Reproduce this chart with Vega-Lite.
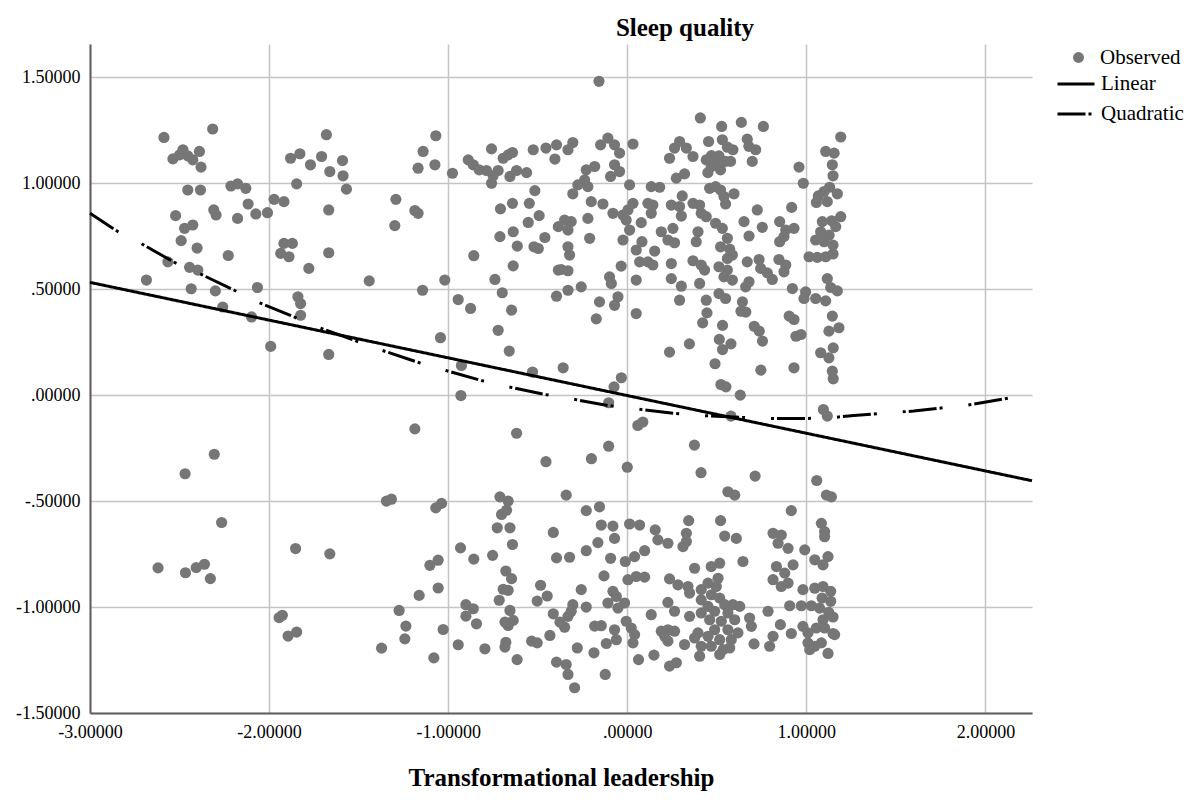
{
  "$schema": "https://vega.github.io/schema/vega-lite/v6.json",
  "width": 942,
  "height": 669,
  "autosize": "none",
  "padding": {"left": 90, "top": 44, "right": 168, "bottom": 94},
  "background": "white",
  "title": {
    "text": "Sleep quality",
    "font": "Liberation Serif",
    "fontSize": 25,
    "fontWeight": "bold",
    "color": "black",
    "anchor": "middle",
    "frame": "group",
    "dx": 124,
    "baseline": "alphabetic",
    "offset": -17
  },
  "datasets": {
    "observed": [
      {"x": -2.587, "y": 1.216}, {"x": -2.315, "y": 1.256}, {"x": -2.481, "y": 1.158}, {"x": -2.537, "y": 1.115},
      {"x": -2.454, "y": 1.129}, {"x": -2.426, "y": 1.11}, {"x": -2.389, "y": 1.15}, {"x": -2.38, "y": 1.076},
      {"x": -2.5, "y": 1.134}, {"x": -2.454, "y": 0.968}, {"x": -2.383, "y": 0.968}, {"x": -2.213, "y": 0.987},
      {"x": -2.176, "y": 0.997}, {"x": -2.13, "y": 0.976}, {"x": -2.117, "y": 0.902}, {"x": -2.309, "y": 0.874},
      {"x": -2.296, "y": 0.85}, {"x": -2.176, "y": 0.834}, {"x": -2.074, "y": 0.855}, {"x": -2.009, "y": 0.861},
      {"x": -1.972, "y": 0.924}, {"x": -1.917, "y": 0.913}, {"x": -2.522, "y": 0.847}, {"x": -2.472, "y": 0.787},
      {"x": -2.426, "y": 0.803}, {"x": -2.491, "y": 0.729}, {"x": -2.402, "y": 0.694}, {"x": -2.228, "y": 0.659},
      {"x": -2.565, "y": 0.629}, {"x": -2.444, "y": 0.603}, {"x": -2.398, "y": 0.59}, {"x": -2.685, "y": 0.543},
      {"x": -2.435, "y": 0.502}, {"x": -2.3, "y": 0.492}, {"x": -2.259, "y": 0.416}, {"x": -2.065, "y": 0.508},
      {"x": -2.098, "y": 0.369}, {"x": -1.991, "y": 0.23}, {"x": -1.88, "y": 1.118}, {"x": -1.828, "y": 1.139},
      {"x": -1.769, "y": 1.087}, {"x": -1.707, "y": 1.126}, {"x": -1.68, "y": 1.229}, {"x": -1.661, "y": 1.055},
      {"x": -1.846, "y": 0.997}, {"x": -1.667, "y": 0.874}, {"x": -1.917, "y": 0.716}, {"x": -1.87, "y": 0.716},
      {"x": -1.935, "y": 0.669}, {"x": -1.889, "y": 0.653}, {"x": -1.667, "y": 0.672}, {"x": -1.778, "y": 0.598},
      {"x": -1.839, "y": 0.464}, {"x": -1.824, "y": 0.432}, {"x": -1.824, "y": 0.377}, {"x": -1.667, "y": 0.192},
      {"x": -2.306, "y": -0.279}, {"x": -2.469, "y": -0.371}, {"x": -2.265, "y": -0.601}, {"x": -2.62, "y": -0.815},
      {"x": -2.467, "y": -0.838}, {"x": -2.407, "y": -0.814}, {"x": -2.361, "y": -0.798}, {"x": -2.328, "y": -0.866},
      {"x": -1.852, "y": -0.724}, {"x": -1.661, "y": -0.749}, {"x": -1.944, "y": -1.05}, {"x": -1.926, "y": -1.039},
      {"x": -1.894, "y": -1.137}, {"x": -1.846, "y": -1.118},
      {"x": -1.59, "y": 1.107}, {"x": -1.587, "y": 1.035}, {"x": -1.568, "y": 0.972}, {"x": -1.292, "y": 0.924},
      {"x": -1.298, "y": 0.8}, {"x": -1.186, "y": 0.871}, {"x": -1.168, "y": 0.858}, {"x": -1.14, "y": 1.15},
      {"x": -1.069, "y": 1.224}, {"x": -1.168, "y": 1.071}, {"x": -1.074, "y": 1.087}, {"x": -0.976, "y": 1.047},
      {"x": -1.441, "y": 0.539}, {"x": -1.143, "y": 0.495}, {"x": -1.019, "y": 0.543}, {"x": -0.944, "y": 0.451},
      {"x": -0.875, "y": 0.409}, {"x": -1.043, "y": 0.271}, {"x": -0.926, "y": 0.14}, {"x": -0.929, "y": -0.002},
      {"x": -0.758, "y": 1.162}, {"x": -0.888, "y": 1.11}, {"x": -0.86, "y": 1.087}, {"x": -0.827, "y": 1.063},
      {"x": -0.786, "y": 1.06}, {"x": -0.758, "y": 1.0}, {"x": -0.749, "y": 1.035}, {"x": -0.721, "y": 1.06},
      {"x": -0.693, "y": 1.118}, {"x": -0.665, "y": 1.134}, {"x": -0.641, "y": 1.145}, {"x": -0.655, "y": 1.032},
      {"x": -0.618, "y": 1.06}, {"x": -0.562, "y": 1.05}, {"x": -0.525, "y": 1.158}, {"x": -0.454, "y": 1.166},
      {"x": -0.395, "y": 1.181}, {"x": -0.404, "y": 1.114}, {"x": -0.516, "y": 0.965}, {"x": -0.708, "y": 0.879},
      {"x": -0.641, "y": 0.905}, {"x": -0.547, "y": 0.905}, {"x": -0.492, "y": 0.847}, {"x": -0.553, "y": 0.815},
      {"x": -0.385, "y": 0.795}, {"x": -0.711, "y": 0.748}, {"x": -0.637, "y": 0.771}, {"x": -0.614, "y": 0.703},
      {"x": -0.521, "y": 0.7}, {"x": -0.497, "y": 0.692}, {"x": -0.46, "y": 0.744}, {"x": -0.857, "y": 0.658},
      {"x": -0.637, "y": 0.61}, {"x": -0.385, "y": 0.59}, {"x": -0.739, "y": 0.546}, {"x": -0.698, "y": 0.483},
      {"x": -0.646, "y": 0.401}, {"x": -0.395, "y": 0.467}, {"x": -0.721, "y": 0.306}, {"x": -0.659, "y": 0.208},
      {"x": -0.529, "y": 0.109}, {"x": -0.358, "y": 0.129},
      {"x": -1.186, "y": -0.159}, {"x": -0.618, "y": -0.18}, {"x": -0.454, "y": -0.314}, {"x": -1.345, "y": -0.5},
      {"x": -1.317, "y": -0.491}, {"x": -1.069, "y": -0.532}, {"x": -1.037, "y": -0.511}, {"x": -0.711, "y": -0.48},
      {"x": -0.665, "y": -0.5}, {"x": -0.674, "y": -0.543}, {"x": -0.702, "y": -0.563}, {"x": -0.726, "y": -0.626},
      {"x": -0.655, "y": -0.626}, {"x": -0.641, "y": -0.705}, {"x": -0.413, "y": -0.648}, {"x": -0.395, "y": -0.768},
      {"x": -0.931, "y": -0.721}, {"x": -0.857, "y": -0.774}, {"x": -0.752, "y": -0.756}, {"x": -1.102, "y": -0.803},
      {"x": -1.056, "y": -0.779}, {"x": -0.678, "y": -0.83}, {"x": -0.646, "y": -0.866}, {"x": -0.693, "y": -0.916},
      {"x": -0.665, "y": -0.921}, {"x": -0.715, "y": -0.968}, {"x": -0.484, "y": -0.897}, {"x": -0.503, "y": -0.972},
      {"x": -0.447, "y": -0.948}, {"x": -1.162, "y": -0.945}, {"x": -1.056, "y": -0.91}, {"x": -1.274, "y": -1.016},
      {"x": -1.236, "y": -1.09}, {"x": -1.242, "y": -1.15}, {"x": -1.372, "y": -1.194}, {"x": -1.028, "y": -1.106},
      {"x": -1.08, "y": -1.24}, {"x": -0.901, "y": -0.989}, {"x": -0.86, "y": -1.008}, {"x": -0.901, "y": -1.043},
      {"x": -0.842, "y": -1.079}, {"x": -0.944, "y": -1.178}, {"x": -0.795, "y": -1.197}, {"x": -0.655, "y": -1.016},
      {"x": -0.683, "y": -1.071}, {"x": -0.637, "y": -1.063}, {"x": -0.665, "y": -1.087}, {"x": -0.678, "y": -1.166},
      {"x": -0.683, "y": -1.189}, {"x": -0.615, "y": -1.248}, {"x": -0.534, "y": -1.161}, {"x": -0.503, "y": -1.169},
      {"x": -0.432, "y": -1.134}, {"x": -0.413, "y": -1.032}, {"x": -0.376, "y": -1.071}, {"x": -0.395, "y": -1.26},
      {"x": -0.158, "y": 1.481}, {"x": 0.408, "y": 1.308}, {"x": -0.304, "y": 1.192}, {"x": -0.331, "y": 1.158},
      {"x": -0.149, "y": 1.181}, {"x": -0.108, "y": 1.213}, {"x": -0.071, "y": 1.181}, {"x": -0.043, "y": 1.142},
      {"x": 0.032, "y": 1.185}, {"x": -0.071, "y": 1.087}, {"x": -0.043, "y": 1.055}, {"x": -0.093, "y": 1.032},
      {"x": -0.229, "y": 1.063}, {"x": -0.182, "y": 1.079}, {"x": -0.238, "y": 1.016}, {"x": -0.276, "y": 0.992},
      {"x": -0.22, "y": 0.984}, {"x": -0.304, "y": 0.95}, {"x": 0.013, "y": 0.992}, {"x": 0.134, "y": 0.984},
      {"x": 0.181, "y": 0.981}, {"x": 0.236, "y": 1.118}, {"x": 0.264, "y": 1.166}, {"x": 0.292, "y": 1.197},
      {"x": 0.33, "y": 1.166}, {"x": 0.367, "y": 1.126}, {"x": 0.274, "y": 1.024}, {"x": 0.32, "y": 1.044},
      {"x": 0.307, "y": 0.94}, {"x": 0.454, "y": 1.197}, {"x": 0.441, "y": 1.11}, {"x": 0.469, "y": 1.079},
      {"x": 0.45, "y": 1.05}, {"x": 0.47, "y": 1.13}, {"x": -0.201, "y": 0.913}, {"x": -0.136, "y": 0.902},
      {"x": -0.08, "y": 0.858}, {"x": -0.024, "y": 0.85}, {"x": 0.004, "y": 0.874}, {"x": 0.032, "y": 0.905},
      {"x": -0.006, "y": 0.826}, {"x": 0.013, "y": 0.779}, {"x": -0.22, "y": 0.834}, {"x": -0.35, "y": 0.826},
      {"x": -0.313, "y": 0.819}, {"x": -0.331, "y": 0.779}, {"x": -0.21, "y": 0.74}, {"x": -0.331, "y": 0.7},
      {"x": -0.322, "y": 0.661}, {"x": -0.369, "y": 0.593}, {"x": -0.331, "y": 0.587}, {"x": -0.257, "y": 0.511},
      {"x": -0.331, "y": 0.495}, {"x": -0.155, "y": 0.44}, {"x": -0.099, "y": 0.558}, {"x": -0.089, "y": 0.527},
      {"x": -0.034, "y": 0.609}, {"x": -0.052, "y": 0.464}, {"x": -0.071, "y": 0.424}, {"x": -0.024, "y": 0.732},
      {"x": 0.078, "y": 0.814}, {"x": 0.05, "y": 0.685}, {"x": 0.082, "y": 0.724}, {"x": 0.115, "y": 0.905},
      {"x": 0.143, "y": 0.897}, {"x": 0.134, "y": 0.858}, {"x": 0.05, "y": 0.543}, {"x": 0.069, "y": 0.629},
      {"x": 0.115, "y": 0.629}, {"x": 0.143, "y": 0.614}, {"x": 0.153, "y": 0.68}, {"x": 0.19, "y": 0.771},
      {"x": 0.246, "y": 0.897}, {"x": 0.292, "y": 0.89}, {"x": 0.302, "y": 0.845}, {"x": 0.255, "y": 0.787},
      {"x": 0.227, "y": 0.732}, {"x": 0.264, "y": 0.719}, {"x": 0.246, "y": 0.621}, {"x": 0.246, "y": 0.55},
      {"x": 0.302, "y": 0.514}, {"x": 0.292, "y": 0.448}, {"x": 0.367, "y": 0.905}, {"x": 0.404, "y": 0.897},
      {"x": 0.413, "y": 0.858}, {"x": 0.395, "y": 0.771}, {"x": 0.385, "y": 0.724}, {"x": 0.367, "y": 0.634},
      {"x": 0.413, "y": 0.614}, {"x": 0.432, "y": 0.59}, {"x": 0.404, "y": 0.527}, {"x": 0.441, "y": 0.448},
      {"x": 0.441, "y": 0.842}, {"x": 0.46, "y": 0.976},
      {"x": 0.527, "y": 1.268}, {"x": 0.637, "y": 1.287}, {"x": 0.76, "y": 1.268}, {"x": 0.531, "y": 1.205},
      {"x": 0.559, "y": 1.17}, {"x": 0.59, "y": 1.158}, {"x": 0.512, "y": 1.129}, {"x": 0.549, "y": 1.103},
      {"x": 0.577, "y": 1.103}, {"x": 0.521, "y": 1.063}, {"x": 0.493, "y": 1.087}, {"x": 0.67, "y": 1.208},
      {"x": 0.679, "y": 1.174}, {"x": 0.717, "y": 1.158}, {"x": 0.698, "y": 1.103}, {"x": 0.959, "y": 1.076},
      {"x": 0.983, "y": 1.0}, {"x": 1.192, "y": 1.218}, {"x": 1.108, "y": 1.15}, {"x": 1.155, "y": 1.142},
      {"x": 1.145, "y": 1.087}, {"x": 1.149, "y": 1.035}, {"x": 1.13, "y": 0.981}, {"x": 1.099, "y": 0.961},
      {"x": 1.173, "y": 0.95}, {"x": 1.067, "y": 0.94}, {"x": 1.056, "y": 0.909}, {"x": 1.117, "y": 0.913},
      {"x": 0.493, "y": 0.984}, {"x": 0.521, "y": 0.968}, {"x": 0.54, "y": 0.937}, {"x": 0.549, "y": 0.902},
      {"x": 0.596, "y": 0.95}, {"x": 0.726, "y": 0.874}, {"x": 0.652, "y": 0.819}, {"x": 0.68, "y": 0.751},
      {"x": 0.754, "y": 0.792}, {"x": 0.918, "y": 0.886}, {"x": 0.851, "y": 0.819}, {"x": 0.885, "y": 0.779},
      {"x": 0.931, "y": 0.787}, {"x": 0.851, "y": 0.724}, {"x": 0.875, "y": 0.748}, {"x": 0.493, "y": 0.811},
      {"x": 0.531, "y": 0.787}, {"x": 0.559, "y": 0.74}, {"x": 0.521, "y": 0.7}, {"x": 0.572, "y": 0.689},
      {"x": 0.559, "y": 0.645}, {"x": 0.587, "y": 0.661}, {"x": 1.089, "y": 0.819}, {"x": 1.142, "y": 0.823},
      {"x": 1.192, "y": 0.842}, {"x": 1.164, "y": 0.795}, {"x": 1.08, "y": 0.771}, {"x": 1.127, "y": 0.755},
      {"x": 1.052, "y": 0.732}, {"x": 1.099, "y": 0.724}, {"x": 1.149, "y": 0.708}, {"x": 1.015, "y": 0.653},
      {"x": 1.061, "y": 0.65}, {"x": 1.108, "y": 0.653}, {"x": 1.149, "y": 0.666}, {"x": 0.67, "y": 0.629},
      {"x": 0.736, "y": 0.64}, {"x": 0.745, "y": 0.598}, {"x": 0.782, "y": 0.577}, {"x": 0.81, "y": 0.546},
      {"x": 0.847, "y": 0.64}, {"x": 0.885, "y": 0.614}, {"x": 0.875, "y": 0.582}, {"x": 0.512, "y": 0.606},
      {"x": 0.559, "y": 0.59}, {"x": 0.54, "y": 0.558}, {"x": 0.587, "y": 0.543}, {"x": 0.68, "y": 0.535},
      {"x": 0.661, "y": 0.511}, {"x": 1.117, "y": 0.55}, {"x": 1.136, "y": 0.508}, {"x": 1.173, "y": 0.492},
      {"x": 0.922, "y": 0.503}, {"x": 0.996, "y": 0.487}, {"x": 0.987, "y": 0.456}, {"x": 1.052, "y": 0.456},
      {"x": 1.108, "y": 0.445}, {"x": 0.512, "y": 0.479}, {"x": 0.549, "y": 0.456}, {"x": 0.643, "y": 0.44},
      {"x": -0.173, "y": 0.36}, {"x": 0.05, "y": 0.385}, {"x": 0.421, "y": 0.341}, {"x": 0.532, "y": 0.329},
      {"x": 0.635, "y": 0.396}, {"x": 0.662, "y": 0.392}, {"x": 0.445, "y": 0.388}, {"x": 0.709, "y": 0.325},
      {"x": 0.737, "y": 0.302}, {"x": 0.755, "y": 0.255}, {"x": 0.904, "y": 0.373}, {"x": 0.931, "y": 0.357},
      {"x": 0.942, "y": 0.278}, {"x": 0.97, "y": 0.286}, {"x": 1.145, "y": 0.373}, {"x": 1.182, "y": 0.318},
      {"x": 1.126, "y": 0.302}, {"x": 1.15, "y": 0.223}, {"x": 1.08, "y": 0.2}, {"x": 1.126, "y": 0.176},
      {"x": 1.145, "y": 0.113}, {"x": 1.15, "y": 0.077}, {"x": 0.347, "y": 0.242}, {"x": 0.236, "y": 0.203},
      {"x": 0.514, "y": 0.263}, {"x": 0.532, "y": 0.215}, {"x": 0.579, "y": 0.242}, {"x": 0.49, "y": 0.148},
      {"x": 0.746, "y": 0.118}, {"x": 0.931, "y": 0.129}, {"x": 0.523, "y": 0.05}, {"x": 0.551, "y": 0.039},
      {"x": 0.631, "y": 0.0}, {"x": 0.579, "y": -0.099}, {"x": -0.033, "y": 0.082}, {"x": -0.074, "y": 0.039},
      {"x": -0.104, "y": -0.036}, {"x": 0.059, "y": -0.143}, {"x": 0.087, "y": -0.127}, {"x": 1.095, "y": -0.068},
      {"x": 1.117, "y": -0.099}, {"x": -0.104, "y": -0.241}, {"x": -0.2, "y": -0.3}, {"x": 0.0, "y": -0.34},
      {"x": 0.375, "y": -0.236}, {"x": 0.412, "y": -0.366}, {"x": 0.714, "y": -0.382}, {"x": 1.058, "y": -0.403},
      {"x": -0.341, "y": -0.472}, {"x": -0.229, "y": -0.545}, {"x": -0.155, "y": -0.527}, {"x": -0.145, "y": -0.613},
      {"x": -0.08, "y": -0.618}, {"x": -0.071, "y": -0.676}, {"x": 0.013, "y": -0.608}, {"x": 0.069, "y": -0.613},
      {"x": 0.156, "y": -0.636}, {"x": 0.171, "y": -0.683}, {"x": 0.227, "y": -0.699}, {"x": 0.343, "y": -0.592},
      {"x": 0.33, "y": -0.652}, {"x": 0.311, "y": -0.715}, {"x": 0.33, "y": -0.691}, {"x": -0.322, "y": -0.765},
      {"x": -0.229, "y": -0.734}, {"x": -0.164, "y": -0.696}, {"x": -0.093, "y": -0.77}, {"x": -0.011, "y": -0.785},
      {"x": 0.041, "y": -0.762}, {"x": 0.097, "y": -0.734}, {"x": -0.13, "y": -0.853}, {"x": 0.004, "y": -0.871},
      {"x": 0.05, "y": -0.856}, {"x": 0.097, "y": -0.859}, {"x": 0.236, "y": -0.867}, {"x": 0.283, "y": -0.895},
      {"x": 0.339, "y": -0.903}, {"x": 0.348, "y": -0.934}, {"x": 0.376, "y": -0.817}, {"x": -0.257, "y": -0.918},
      {"x": -0.08, "y": -0.926}, {"x": -0.061, "y": -0.95}, {"x": -0.108, "y": -0.981}, {"x": -0.052, "y": -1.005},
      {"x": -0.015, "y": -0.981}, {"x": -0.304, "y": -0.989}, {"x": -0.313, "y": -1.02}, {"x": -0.331, "y": -1.044},
      {"x": -0.229, "y": -1.0}, {"x": -0.35, "y": -1.095}, {"x": 0.227, "y": -0.978}, {"x": 0.264, "y": -1.02},
      {"x": 0.134, "y": -1.036}, {"x": 0.348, "y": -1.044}, {"x": -0.182, "y": -1.09}, {"x": -0.145, "y": -1.088},
      {"x": -0.071, "y": -1.107}, {"x": -0.061, "y": -1.154}, {"x": -0.117, "y": -1.172}, {"x": -0.006, "y": -1.067},
      {"x": 0.022, "y": -1.099}, {"x": 0.041, "y": -1.13}, {"x": 0.032, "y": -1.169}, {"x": 0.19, "y": -1.114},
      {"x": 0.227, "y": -1.107}, {"x": 0.264, "y": -1.114}, {"x": 0.227, "y": -1.161}, {"x": 0.209, "y": -1.138},
      {"x": -0.279, "y": -1.193}, {"x": -0.186, "y": -1.216}, {"x": -0.341, "y": -1.271}, {"x": -0.331, "y": -1.318},
      {"x": -0.294, "y": -1.381}, {"x": -0.123, "y": -1.318}, {"x": 0.063, "y": -1.248}, {"x": 0.149, "y": -1.227},
      {"x": 0.236, "y": -1.279}, {"x": 0.274, "y": -1.263}, {"x": 0.32, "y": -1.177}, {"x": 0.376, "y": -1.146},
      {"x": 0.404, "y": -1.232}, {"x": 0.413, "y": -1.185}, {"x": 0.413, "y": -0.918}, {"x": 0.413, "y": -0.966},
      {"x": 0.413, "y": -1.028}, {"x": 0.395, "y": -1.122},
      {"x": 0.562, "y": -0.456}, {"x": 0.6, "y": -0.472}, {"x": 1.112, "y": -0.472}, {"x": 1.14, "y": -0.48},
      {"x": 0.916, "y": -0.545}, {"x": 0.521, "y": -0.592}, {"x": 0.544, "y": -0.665}, {"x": 0.609, "y": -0.676},
      {"x": 1.084, "y": -0.605}, {"x": 1.102, "y": -0.644}, {"x": 1.102, "y": -0.668}, {"x": 0.814, "y": -0.652},
      {"x": 0.86, "y": -0.66}, {"x": 0.842, "y": -0.699}, {"x": 0.898, "y": -0.723}, {"x": 0.991, "y": -0.73},
      {"x": 1.047, "y": -0.777}, {"x": 1.093, "y": -0.801}, {"x": 1.121, "y": -0.762}, {"x": 0.646, "y": -0.785},
      {"x": 0.469, "y": -0.809}, {"x": 0.516, "y": -0.793}, {"x": 0.507, "y": -0.864}, {"x": 0.833, "y": -0.809},
      {"x": 0.879, "y": -0.84}, {"x": 0.926, "y": -0.801}, {"x": 0.814, "y": -0.871}, {"x": 0.86, "y": -0.903},
      {"x": 0.898, "y": -0.887}, {"x": 0.981, "y": -0.918}, {"x": 1.047, "y": -0.911}, {"x": 1.093, "y": -0.903},
      {"x": 1.136, "y": -0.926}, {"x": 1.088, "y": -0.958}, {"x": 1.136, "y": -0.973}, {"x": 1.074, "y": -1.005},
      {"x": 1.125, "y": -1.025}, {"x": 1.093, "y": -1.06}, {"x": 1.149, "y": -1.047}, {"x": 1.056, "y": -1.099},
      {"x": 1.102, "y": -1.099}, {"x": 1.149, "y": -1.125}, {"x": 0.907, "y": -0.994}, {"x": 0.972, "y": -0.994},
      {"x": 1.028, "y": -0.994}, {"x": 0.786, "y": -1.02}, {"x": 0.683, "y": -1.052}, {"x": 0.693, "y": -1.091},
      {"x": 0.855, "y": -1.083}, {"x": 0.916, "y": -1.125}, {"x": 0.981, "y": -1.091}, {"x": 1.009, "y": -1.122},
      {"x": 0.814, "y": -1.138}, {"x": 0.795, "y": -1.185}, {"x": 0.708, "y": -1.174}, {"x": 1.009, "y": -1.169},
      {"x": 1.047, "y": -1.185}, {"x": 1.019, "y": -1.201}, {"x": 1.084, "y": -1.169}, {"x": 1.158, "y": -1.13},
      {"x": 1.121, "y": -1.219}, {"x": 0.451, "y": -0.887}, {"x": 0.497, "y": -0.903}, {"x": 0.47, "y": -0.942},
      {"x": 0.516, "y": -0.958}, {"x": 0.451, "y": -0.997}, {"x": 0.544, "y": -0.989}, {"x": 0.59, "y": -0.989},
      {"x": 0.628, "y": -0.997}, {"x": 0.488, "y": -1.02}, {"x": 0.562, "y": -1.028}, {"x": 0.46, "y": -1.06},
      {"x": 0.525, "y": -1.067}, {"x": 0.6, "y": -1.06}, {"x": 0.488, "y": -1.107}, {"x": 0.562, "y": -1.107},
      {"x": 0.618, "y": -1.122}, {"x": 0.451, "y": -1.138}, {"x": 0.516, "y": -1.154}, {"x": 0.581, "y": -1.154},
      {"x": 0.469, "y": -1.185}, {"x": 0.535, "y": -1.201}, {"x": 0.572, "y": -1.193}, {"x": 0.516, "y": -1.224}
    ],
    "fits": [
      {"fit": "Linear", "x": -3.0, "y": 0.532},
      {"fit": "Linear", "x": 0.0, "y": -0.002},
      {"fit": "Linear", "x": 2.26, "y": -0.404},
      {"fit": "Quadratic", "x": -3.0, "y": 0.858},
      {"fit": "Quadratic", "x": -2.843, "y": 0.771},
      {"fit": "Quadratic", "x": -2.722, "y": 0.719},
      {"fit": "Quadratic", "x": -2.528, "y": 0.626},
      {"fit": "Quadratic", "x": -2.389, "y": 0.574},
      {"fit": "Quadratic", "x": -2.194, "y": 0.495},
      {"fit": "Quadratic", "x": -2.065, "y": 0.44},
      {"fit": "Quadratic", "x": -1.861, "y": 0.369},
      {"fit": "Quadratic", "x": -1.731, "y": 0.322},
      {"fit": "Quadratic", "x": -1.382, "y": 0.215},
      {"fit": "Quadratic", "x": -1.173, "y": 0.156},
      {"fit": "Quadratic", "x": -1.028, "y": 0.12},
      {"fit": "Quadratic", "x": -0.814, "y": 0.069},
      {"fit": "Quadratic", "x": -0.674, "y": 0.041},
      {"fit": "Quadratic", "x": -0.46, "y": 0.003},
      {"fit": "Quadratic", "x": -0.321, "y": -0.016},
      {"fit": "Quadratic", "x": -0.108, "y": -0.049},
      {"fit": "Quadratic", "x": 0.041, "y": -0.064},
      {"fit": "Quadratic", "x": 0.26, "y": -0.086},
      {"fit": "Quadratic", "x": 0.406, "y": -0.096},
      {"fit": "Quadratic", "x": 0.764, "y": -0.11},
      {"fit": "Quadratic", "x": 0.996, "y": -0.11},
      {"fit": "Quadratic", "x": 1.135, "y": -0.107},
      {"fit": "Quadratic", "x": 1.265, "y": -0.096},
      {"fit": "Quadratic", "x": 1.6, "y": -0.075},
      {"fit": "Quadratic", "x": 1.9, "y": -0.047},
      {"fit": "Quadratic", "x": 2.26, "y": 0.005}
    ]
  },
  "encoding": {
    "x": {
      "field": "x",
      "type": "quantitative",
      "scale": {"domain": [-3, 2.26], "nice": false, "zero": false},
      "axis": {
        "values": [-3, -2, -1, 0, 1, 2],
        "labelExpr": "(datum.value < 0 ? '-' : '') + (abs(datum.value) < 1 ? substring(format(abs(datum.value), '.5f'), 1) : format(abs(datum.value), '.5f'))",
        "labelPadding": 10,
        "title": "Transformational leadership",
        "titleFontSize": 25,
        "titleFontWeight": "bold",
        "titleBaseline": "alphabetic",
        "titleY": 72
      }
    },
    "y": {
      "field": "y",
      "type": "quantitative",
      "scale": {"domain": [-1.5, 1.657], "nice": false, "zero": false},
      "axis": {
        "values": [-1.5, -1, -0.5, 0, 0.5, 1, 1.5],
        "labelExpr": "(datum.value < 0 ? '-' : '') + (abs(datum.value) < 1 ? substring(format(abs(datum.value), '.5f'), 1) : format(abs(datum.value), '.5f'))",
        "labelPadding": 10,
        "title": null
      }
    }
  },
  "layer": [
    {
      "data": {"name": "observed"},
      "mark": {"type": "circle", "size": 125, "opacity": 1},
      "encoding": {
        "color": {
          "datum": "Observed",
          "type": "nominal",
          "scale": {"domain": ["Observed"], "range": ["#767676"]},
          "legend": {
            "title": null,
            "orient": "none",
            "legendX": 978,
            "legendY": 3,
            "padding": 0,
            "symbolType": "circle",
            "symbolSize": 120,
            "symbolStrokeWidth": 0,
            "labelOffset": 11,
            "labelFontSize": 21
          }
        }
      }
    },
    {
      "data": {"name": "fits"},
      "mark": {"type": "line", "color": "black", "strokeWidth": 3, "strokeCap": "butt"},
      "encoding": {
        "order": {"field": "x", "type": "quantitative"},
        "strokeDash": {
          "field": "fit",
          "type": "nominal",
          "scale": {"domain": ["Linear", "Quadratic"], "range": [[1, 0], [28, 3, 3, 26, 3, 3]]},
          "legend": {
            "title": null,
            "orient": "none",
            "legendX": 966,
            "legendY": 20,
            "padding": 0,
            "symbolType": "stroke",
            "symbolSize": 1369,
            "symbolStrokeWidth": 3,
            "symbolStrokeColor": "black",
            "labelOffset": 5,
            "labelFontSize": 21,
            "rowPadding": -15
          }
        }
      }
    }
  ],
  "config": {
    "view": {"stroke": null},
    "font": "Liberation Serif",
    "axis": {
      "labelFont": "Liberation Serif",
      "labelFontSize": 18,
      "labelColor": "black",
      "labelFlush": false,
      "labelOverlap": false,
      "titleFont": "Liberation Serif",
      "titleColor": "black",
      "ticks": false,
      "tickSize": 0,
      "domainColor": "#5f5f5f",
      "domainWidth": 2,
      "gridColor": "#c4c4c4",
      "gridWidth": 1.5
    },
    "legend": {
      "labelFont": "Liberation Serif",
      "labelColor": "black"
    }
  }
}
